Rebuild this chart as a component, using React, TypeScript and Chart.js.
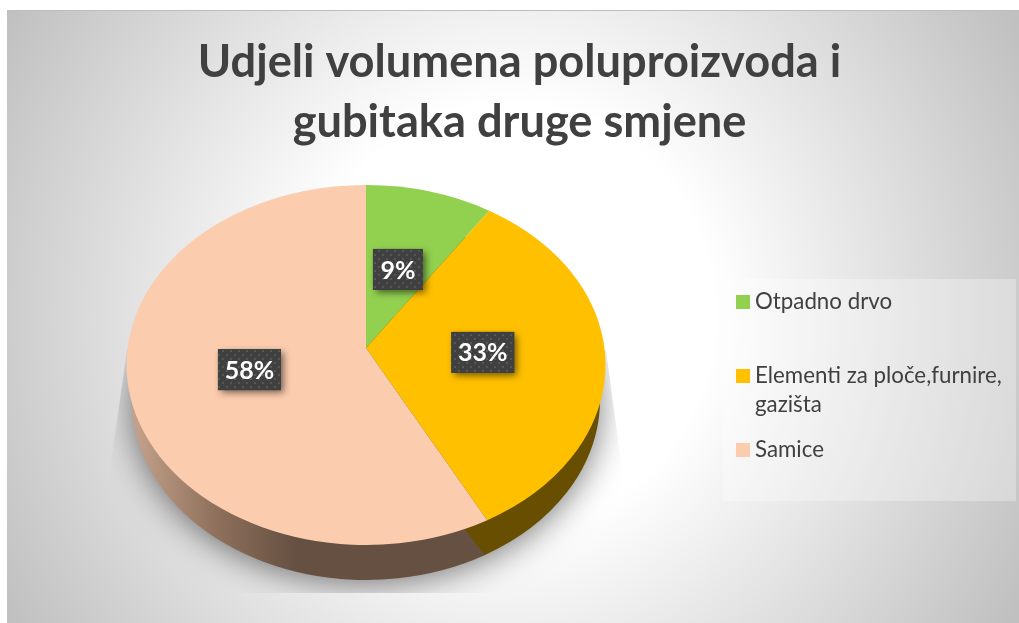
import React, { useEffect, useRef } from "react";
import { Chart, registerables } from "chart.js";

Chart.register(...registerables);

const titleLines = ["Udjeli volumena poluproizvoda i", "gubitaka druge smjene"];
const categories = ["Otpadno drvo", "Elementi za ploče,furnire,", "Samice"];
const categoryExtraLines = [[], ["gazišta"], []] as string[][];
const values = [8.6, 32.95, 58.45];
const sliceColors = ["#92D050", "#FFC000", "#FBCCAE"];
const wallColors = ["#4A6A28", "#674E00", "#655041"];

const W = 1019;
const H = 623;
const FONT = "Lato, 'Open Sans', sans-serif";
const TEXT = "#404040";

// top surface geometry
const CX = 366, CY = 365, RX = 239.5, RY = 180, APEX_Y = 348;
// lower rim of the side wall
const BCY = 400, BRX = 234, BRY = 180;
const labelNudge = [[0, 0], [-3, 4], [-1, -2]];
const legendY = [302, 376, 450];

function dotPattern(ctx: CanvasRenderingContext2D) {
  const c = document.createElement("canvas");
  c.width = 8; c.height = 8;
  const g = c.getContext("2d")!;
  g.fillStyle = "#404040";
  g.fillRect(0, 0, 8, 8);
  g.fillStyle = "#565656";
  g.fillRect(2, 2, 2, 2);
  g.fillRect(6, 6, 2, 2);
  return ctx.createPattern(c, "repeat")!;
}

const piePlugin = {
  id: "tiltedPie",
  beforeDraw(chart: any) {
    const ctx: CanvasRenderingContext2D = chart.ctx;
    ctx.save();
    ctx.fillStyle = "#ffffff";
    ctx.fillRect(0, 0, W, H);
    ctx.beginPath();
    ctx.rect(7, 10, W - 7, H - 10);
    ctx.clip();
    ctx.translate(510, 315);
    ctx.scale(580, 600);
    const g = ctx.createRadialGradient(0, 0, 0, 0, 0, 1);
    g.addColorStop(0, "#ffffff");
    g.addColorStop(0.35, "#ffffff");
    g.addColorStop(1, "#c0c0c0");
    ctx.fillStyle = g;
    ctx.fillRect(-2, -2, 4, 4);
    ctx.restore();
    ctx.fillStyle = "#bdbdbd";
    ctx.fillRect(7, 10, W - 7, 1);
  },
  beforeDatasetDraw(chart: any) {
    const ctx: CanvasRenderingContext2D = chart.ctx;
    const arcs = chart.getDatasetMeta(0).data;

    // cast shadow, clipped to its perspective footprint
    ctx.save();
    ctx.beginPath();
    ctx.moveTo(127, 350);
    ctx.lineTo(606, 350);
    ctx.lineTo(622, 470);
    ctx.lineTo(622, 593);
    ctx.lineTo(110, 593);
    ctx.lineTo(110, 470);
    ctx.closePath();
    ctx.clip();
    ctx.shadowColor = "rgba(0,0,0,0.55)";
    ctx.shadowBlur = 34;
    ctx.shadowOffsetY = 4;
    ctx.fillStyle = wallColors[2];
    ctx.beginPath();
    ctx.ellipse(CX, BCY, BRX - 1, BRY - 1, 0, 0, Math.PI * 2);
    ctx.fill();
    ctx.restore();

    // side walls
    arcs.forEach((arc: any, i: number) => {
      const p = arc.getProps(["startAngle", "endAngle"], true);
      ctx.save();
      if (i === 2) {
        const g = ctx.createLinearGradient(CX - RX, 0, CX - 40, 0);
        g.addColorStop(0, "#C9A68E");
        g.addColorStop(0.45, "#8E705C");
        g.addColorStop(0.85, wallColors[2]);
        ctx.fillStyle = g;
      } else {
        ctx.fillStyle = wallColors[i];
      }
      ctx.beginPath();
      ctx.moveTo(CX, BCY);
      ctx.ellipse(CX, BCY, BRX, BRY, 0, p.startAngle, p.endAngle);
      ctx.closePath();
      ctx.fill();
      ctx.restore();
    });

    // top faces
    arcs.forEach((arc: any, i: number) => {
      const p = arc.getProps(["startAngle", "endAngle"], true);
      ctx.fillStyle = sliceColors[i];
      ctx.beginPath();
      ctx.moveTo(CX, APEX_Y);
      ctx.ellipse(CX, CY, RX, RY, 0, p.startAngle, p.endAngle);
      ctx.closePath();
      ctx.fill();
    });
    return false;
  },
  afterDatasetsDraw(chart: any) {
    const ctx: CanvasRenderingContext2D = chart.ctx;
    const arcs = chart.getDatasetMeta(0).data;
    const data: number[] = chart.data.datasets[0].data;
    const total = data.reduce((a, b) => a + b, 0);
    const pattern = dotPattern(ctx);

    // data labels
    arcs.forEach((arc: any, i: number) => {
      const p = arc.getProps(["startAngle", "endAngle"], true);
      const mid = (p.startAngle + p.endAngle) / 2;
      const sin = Math.sin(mid);
      const x = CX + 0.5 * RX * Math.cos(mid) + labelNudge[i][0];
      const y = APEX_Y + 0.5 * (sin < 0 ? 163 : RY) * sin + labelNudge[i][1];
      const text = Math.round((data[i] / total) * 100) + "%";
      ctx.font = `bold 25px ${FONT}`;
      const w = text.length > 2 ? 63 : 50;
      const h = 41;
      ctx.save();
      ctx.shadowColor = "rgba(0,0,0,0.55)";
      ctx.shadowBlur = 7;
      ctx.shadowOffsetX = 3;
      ctx.shadowOffsetY = 3;
      ctx.fillStyle = "#404040";
      ctx.fillRect(x - w / 2, y - h / 2, w, h);
      ctx.restore();
      ctx.fillStyle = pattern;
      ctx.fillRect(x - w / 2, y - h / 2, w, h);
      ctx.fillStyle = "#ffffff";
      ctx.textAlign = "center";
      ctx.textBaseline = "middle";
      ctx.fillText(text, x, y + 1);
    });

    // legend panel
    ctx.fillStyle = "rgba(255,255,255,0.3)";
    ctx.fillRect(723, 279, 293, 222);
    ctx.font = `22.3px ${FONT}`;
    ctx.textAlign = "left";
    ctx.textBaseline = "middle";
    categories.forEach((name, i) => {
      const y = legendY[i];
      ctx.fillStyle = sliceColors[i];
      ctx.fillRect(736, y - 7, 14, 14);
      ctx.fillStyle = TEXT;
      ctx.fillText(name, 755, y);
      categoryExtraLines[i].forEach((line, j) => ctx.fillText(line, 755, y + 29 * (j + 1)));
    });
  },
};

export default function App() {
  const ref = useRef<HTMLCanvasElement>(null);
  useEffect(() => {
    const chart = new Chart(ref.current!, {
      type: "pie",
      data: {
        labels: categories,
        datasets: [{ data: values, backgroundColor: sliceColors, borderWidth: 0 }],
      },
      options: {
        responsive: false,
        animation: false,
        layout: { padding: { left: 20 } },
        plugins: {
          legend: { display: false },
          tooltip: { enabled: false },
          title: {
            display: true,
            text: titleLines,
            color: TEXT,
            font: { family: FONT, size: 45.2, weight: "bold", lineHeight: 1.327 },
            padding: { top: 32, bottom: 10 },
          },
        },
      },
      plugins: [piePlugin],
    } as any);
    return () => chart.destroy();
  }, []);
  return (
    <div style={{ position: "fixed", left: 0, top: 0, width: W, height: H, overflow: "hidden" }}>
      <canvas ref={ref} width={W} height={H} style={{ display: "block" }} />
    </div>
  );
}
